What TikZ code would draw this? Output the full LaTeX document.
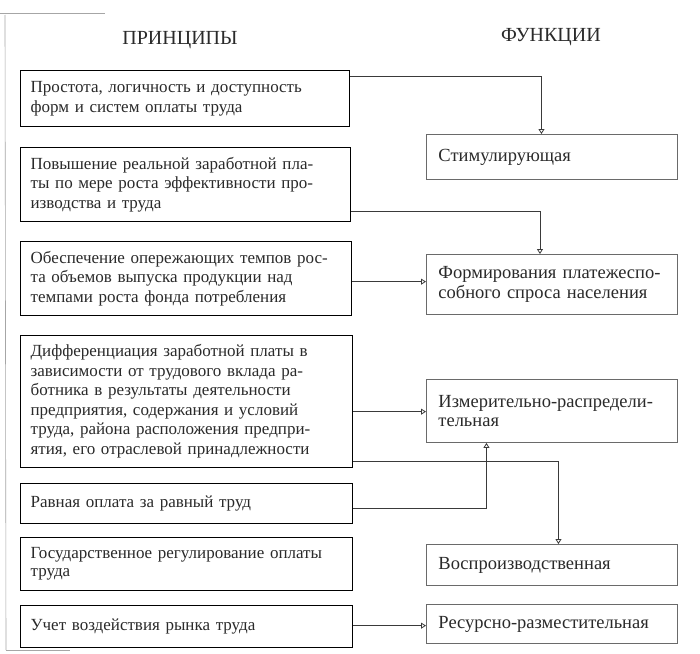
\documentclass[tikz,border=0pt]{standalone}
\usepackage{fontspec}
\setmainfont{Liberation Serif}
\usetikzlibrary{arrows.meta,calc}
\definecolor{ink}{HTML}{2A2A2A}
\definecolor{rline}{HTML}{6A6A6A}
\definecolor{cline}{HTML}{3A3A3A}
\newcommand\mylines[1]{\begin{tabular}{@{}l@{}}#1\end{tabular}}
\begin{document}
\begin{tikzpicture}[x=1pt,y=-1pt,
  lbox/.style={draw=black,line width=1.3pt,anchor=north west,inner xsep=10pt,inner ysep=0pt,
    text width=#1,align=left,font=\fontsize{17}{19.5}\selectfont,text=ink},
  rbox/.style={draw=rline,line width=0.9pt,anchor=north west,inner xsep=12pt,inner ysep=0pt,
    minimum width=251pt,text width=227pt,align=left,font=\fontsize{18.5}{19.5}\selectfont,text=ink},
  conn/.style={draw=cline,line width=0.8pt,-{Triangle[open,length=5pt,width=6pt]}},
  title/.style={font=\fontsize{20}{22}\selectfont,text=ink},
  scan/.style={draw=gray!70,line width=0.6pt}]
\path[fill=white,use as bounding box] (0,0) rectangle (700,653);
% scan edge lines
\draw[scan] (0,13) -- (105,13);
\draw[scan] (5,15) -- (6,650);
\draw[scan] (6,650) -- (70,650);
% titles
\node[title] (tP) at (180,40) {ПРИНЦИПЫ};
\node[title] (tF) at (551,37) {ФУНКЦИИ};
% left boxes
\node[lbox=309pt,minimum height=56pt] (L1) at (20,70)
  {\mylines{Простота, логичность и доступность\\форм и систем оплаты труда}};
\node[lbox=310pt,minimum height=74pt] (L2) at (20,147)
  {\mylines{Повышение реальной заработной пла-\\ты по мере роста эффективности про-\\изводства и труда}};
\node[lbox=311pt,minimum height=74pt] (L3) at (20,241)
  {\mylines{Обеспечение опережающих темпов рос-\\та объемов выпуска продукции над\\темпами роста фонда потребления}};
\node[lbox=312pt,minimum height=132pt] (L4) at (20,335)
  {\mylines{Дифференциация заработной платы в\\зависимости от трудового вклада ра-\\ботника в результаты деятельности\\предприятия, содержания и условий\\труда, района расположения предпри-\\ятия, его отраслевой принадлежности}};
\node[lbox=312pt,minimum height=40pt] (L5) at (20,483)
  {\mylines{Равная оплата за равный труд}};
\node[lbox=312pt,minimum height=53pt,font=\fontsize{17}{17.5}\selectfont] (L6) at (20,537)
  {\mylines{Государственное регулирование оплаты\\труда}};
\node[lbox=312pt,minimum height=42pt] (L7) at (20,605)
  {\raisebox{-2pt}{\mylines{Учет воздействия рынка труда}}};
% right boxes
\node[rbox,minimum height=45pt] (R1) at (426,134) {Стимулирующая};
\node[rbox,minimum height=60pt] (R2) at (426,254) {Формирования платежеспо-\\собного спроса населения};
\node[rbox,minimum height=63pt] (R3) at (426,379) {Измерительно-распредели-\\тельная};
\node[rbox,minimum height=41pt] (R4) at (426,544) {Воспроизводственная};
\node[rbox,minimum height=39pt] (R5) at (426,604) {Ресурсно-разместительная};
% connectors
\draw[conn] ([yshift=-6pt]L1.north east) -| ([xshift=-10.5pt]R1.north);
\draw[conn] ([yshift=11pt]L2.south east) -| ([xshift=-12pt]R2.north);
\draw[conn] ([yshift=-3pt]L3.east) coordinate (a3) -- (a3 -| R2.west);
\draw[conn] ([yshift=-10pt]L4.east) coordinate (a4) -- (a4 -| R3.west);
\draw[conn] ([yshift=7pt]L4.south east) -| ([xshift=6.5pt]R4.north);
\draw[conn] ([yshift=-5pt]L5.east) -| ([xshift=-65.5pt]R3.south);
\draw[conn] ([yshift=1pt]L7.east) coordinate (a7) -- (a7 -| R5.west);
\end{tikzpicture}
\end{document}
